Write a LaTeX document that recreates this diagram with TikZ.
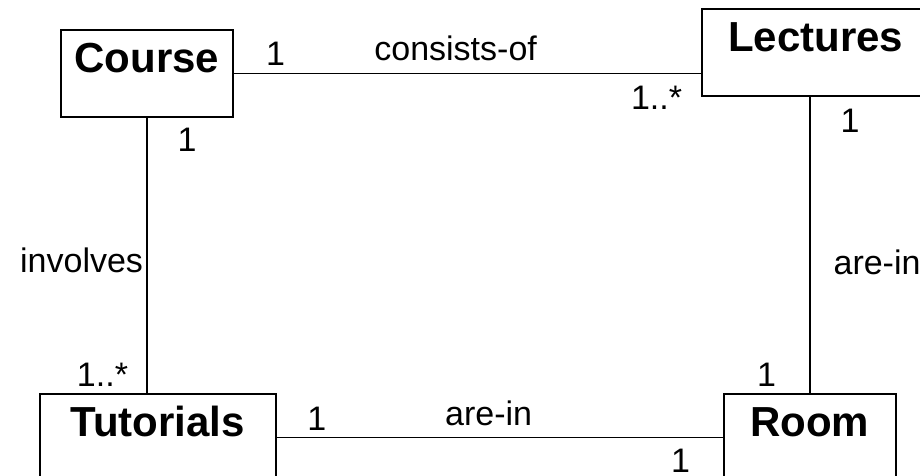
\documentclass[tikz,border=0pt]{standalone}
\usepackage{fontspec}
\setmainfont{Liberation Sans}
\usepackage{tikz}

\tikzset{
  classbox/.style={draw, line width=1.6pt, anchor=north west,
    font=\bfseries\fontsize{42}{50}\selectfont,
    inner xsep=0pt, inner ysep=12pt, text height=31pt, text depth=32pt},
  mult/.style={font=\fontsize{34}{40}\selectfont, inner sep=2pt},
}

\begin{document}
\begin{tikzpicture}[x=1pt, y=-1pt, line width=1.6pt]
    \useasboundingbox (0,0) rectangle (920,475);
    \clip (0,0) rectangle (920,475);

    % Classes
    \node[classbox, minimum width=172pt] (course) at (60,29) {Course};
    \node[classbox, minimum width=228pt] (lectures) at (701,8) {Lectures};
    \node[classbox, minimum width=236pt] (tutorials) at (39,393) {Tutorials};
    \node[classbox, minimum width=172pt] (room) at (723,393) {Room};

    % Associations
    \draw (course.east) -- node[mult, pos=0.09, above=5pt] {1}
        node[mult, pos=0.475, above=10pt] {consists-of}
        node[mult, pos=0.905, below=10pt] {1..*} (course.east -| lectures.west);
    \draw (course.south) -- node[mult, pos=0.08, right=28pt] {1}
        node[mult, pos=0.52, left=1pt] {involves}
        node[mult, pos=0.935, left=16pt] {1..*} (course.south |- tutorials.north);
    \draw (room.north |- lectures.south) -- node[mult, pos=0.08, right=28pt] {1}
        node[mult, pos=0.56, right=21pt] {are-in}
        node[mult, pos=0.94, left=31pt] {1} (room.north);
    \draw (tutorials.east) -- node[mult, pos=0.09, above=4pt] {1}
        node[mult, pos=0.475, above=9pt] {are-in}
        node[mult, pos=0.905, below=9pt] {1} (tutorials.east -| room.west);
\end{tikzpicture}
\end{document}
